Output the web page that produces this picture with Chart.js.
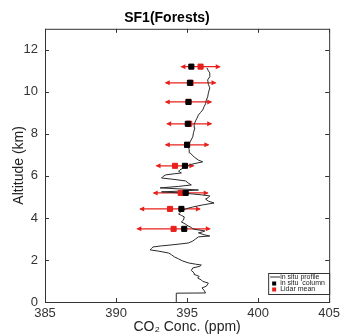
<!DOCTYPE html>
<html>
<head>
<meta charset="utf-8">
<script src="https://cdn.jsdelivr.net/npm/chart.js@4.4.0/dist/chart.umd.min.js"></script>
<style>
  html, body { margin: 0; padding: 0; background: #fff; }
  #wrap { width: 344px; height: 336px; }
</style>
</head>
<body>
<div id="wrap"><canvas id="chart" width="344" height="336"></canvas></div>
<script>
// in situ profile (altitude km, CO2 ppm)
const profileAlt = [
  0, 0.42, 0.43, 0.55, 0.67, 0.75, 0.9, 0.98, 1.05, 1.14,
  1.22, 1.3, 1.38, 1.5, 1.62, 1.7, 1.76, 1.8, 1.86, 1.95,
  2.05, 2.15, 2.25, 2.33, 2.42, 2.48, 2.55, 2.62, 2.67, 2.71,
  2.76, 2.81, 2.9, 3.0, 3.1, 3.14, 3.2, 3.29, 3.34, 3.38,
  3.44, 3.48, 3.55, 3.62, 3.7, 3.81, 3.9, 4.05, 4.12, 4.19,
  4.28, 4.38, 4.45, 4.52, 4.62, 4.71, 4.8, 4.9, 4.97, 5.05,
  5.1, 5.14, 5.19, 5.24, 5.28, 5.33, 5.38, 5.43, 5.5, 5.57,
  5.65, 5.76, 5.84, 5.9, 5.97, 6.05, 6.1, 6.14, 6.22, 6.29,
  6.36, 6.43, 6.55, 6.67, 6.75, 6.9, 7.1, 7.25, 7.43, 7.6,
  7.86, 8.05, 8.29, 8.45, 8.62, 8.75, 8.9, 9.02, 9.14, 9.3,
  9.43, 9.6, 9.76, 9.95, 10.19, 10.35, 10.57, 10.72, 10.9, 11.0, 11.14
];
const profileConc = [
  394.24, 394.24, 396.3, 396.2, 396.05, 396.35, 396.5, 396.1, 396.0, 395.75,
  395.85, 395.55, 395.5, 395.3, 395.4, 395.9, 396.0, 395.6, 395.1, 394.7,
  394.4, 394.1, 393.9, 393.7, 393.0, 392.4, 392.5, 392.6, 393.2, 393.8,
  394.5, 395.1, 395.4, 395.6, 395.8, 396.6, 396.2, 395.8, 396.1, 396.25,
  395.7, 395.4, 395.3, 395.07, 394.9, 394.6, 394.75, 394.8, 394.6, 394.4,
  394.55, 394.7, 395.0, 395.4, 396.1, 396.9, 396.5, 396.3, 396.5, 396.6,
  396.0, 395.4, 394.5, 393.2, 394.6, 395.8, 394.5, 393.1, 394.4, 395.3,
  395.1, 394.9, 394.0, 393.2, 393.3, 393.5, 394.1, 394.6, 394.4, 394.5,
  394.7, 394.8, 395.3, 396.1, 395.8, 395.5, 395.2, 395.15, 395.07, 395.2,
  395.4, 395.45, 395.55, 395.5, 395.6, 395.7, 395.8, 395.95, 396.1, 396.2,
  396.3, 396.35, 396.45, 396.5, 396.6, 396.5, 396.45, 396.6, 396.6, 396.5, 396.4
];

// column levels
const levelAlt = [11.2, 10.43, 9.52, 8.48, 7.48, 6.48, 5.19, 4.43, 3.48];
const insituColumn = [395.3, 395.2, 395.1, 395.05, 395.0, 394.85, 394.9, 394.6, 394.8];
const lidarMean = [395.95, 395.25, 395.1, 395.15, 395.0, 394.15, 394.55, 393.8, 394.05];
const lidarErr = [1.35, 1.75, 1.6, 1.55, 1.5, 1.3, 1.9, 2.1, 2.55];

const xTicks = [385, 390, 395, 400, 405];
const yTicks = [0, 2, 4, 6, 8, 10, 12];

const RED = "#e8201c";
const FONT = "'Liberation Sans', Arial, Helvetica, sans-serif";

// red error bars with arrow heads
const errorBars = {
  id: "errorBars",
  beforeDatasetsDraw(chart) {
    const { ctx, scales: { x, y } } = chart;
    ctx.save();
    ctx.strokeStyle = RED;
    ctx.fillStyle = RED;
    ctx.lineWidth = 1.3;
    for (let i = 0; i < levelAlt.length; i++) {
      const py = y.getPixelForValue(levelAlt[i]);
      const x1 = x.getPixelForValue(lidarMean[i] - lidarErr[i]);
      const x2 = x.getPixelForValue(lidarMean[i] + lidarErr[i]);
      ctx.beginPath();
      ctx.moveTo(x1, py);
      ctx.lineTo(x2, py);
      ctx.stroke();
      // arrow heads
      ctx.beginPath();
      ctx.moveTo(x1 - 1, py);
      ctx.lineTo(x1 + 4, py - 2.5);
      ctx.lineTo(x1 + 4, py + 2.5);
      ctx.closePath();
      ctx.moveTo(x2 + 1, py);
      ctx.lineTo(x2 - 4, py - 2.5);
      ctx.lineTo(x2 - 4, py + 2.5);
      ctx.closePath();
      ctx.fill();
    }
    ctx.restore();
  },
};

// matlab style box with inward ticks
const frame = {
  id: "frame",
  afterDraw(chart) {
    const { ctx, chartArea: a, scales: { x, y } } = chart;
    ctx.save();
    ctx.strokeStyle = "#333";
    ctx.lineWidth = 1;
    ctx.strokeRect(a.left + 0.5, a.top + 0.5, a.right - a.left, a.bottom - a.top);
    ctx.beginPath();
    xTicks.forEach((v) => {
      const px = Math.round(x.getPixelForValue(v)) + 0.5;
      ctx.moveTo(px, a.bottom); ctx.lineTo(px, a.bottom - 4);
      ctx.moveTo(px, a.top); ctx.lineTo(px, a.top + 4);
    });
    yTicks.forEach((v) => {
      const py = Math.round(y.getPixelForValue(v)) + 0.5;
      ctx.moveTo(a.left, py); ctx.lineTo(a.left + 4, py);
      ctx.moveTo(a.right, py); ctx.lineTo(a.right - 4, py);
    });
    ctx.stroke();
    ctx.restore();
  },
};

// legend box in lower right corner
const cornerLegend = {
  id: "cornerLegend",
  afterDraw(chart) {
    const { ctx, chartArea: a } = chart;
    const bx = a.right - 61, by = a.bottom - 29, bw = 61, bh = 21;
    ctx.save();
    ctx.fillStyle = "#fff";
    ctx.fillRect(bx, by, bw, bh);
    ctx.strokeStyle = "#333";
    ctx.lineWidth = 1;
    ctx.strokeRect(bx + 0.5, by + 0.5, bw, bh);
    ctx.font = "7px " + FONT;
    ctx.textBaseline = "middle";
    ctx.fillStyle = "#222";
    ctx.beginPath();
    ctx.moveTo(bx + 2, by + 4);
    ctx.lineTo(bx + 12, by + 4);
    ctx.stroke();
    ctx.fillText("in situ profile", bx + 12, by + 4);
    ctx.fillStyle = "#000";
    ctx.fillRect(bx + 4, by + 8.5, 4, 4);
    ctx.fillStyle = "#222";
    ctx.fillText("in situ  column", bx + 12, by + 10.5);
    ctx.fillStyle = RED;
    ctx.fillRect(bx + 4, by + 14.5, 4, 4);
    ctx.fillStyle = "#222";
    ctx.fillText("Lidar mean", bx + 12, by + 16.5);
    ctx.restore();
  },
};

const ctx = document.getElementById("chart").getContext("2d");

new Chart(ctx, {
  type: "scatter",
  data: {
    datasets: [
      {
        label: "in situ profile",
        data: profileAlt.map((h, i) => ({ x: profileConc[i], y: h })),
        showLine: true,
        borderColor: "#2a2a2a",
        borderWidth: 1,
        pointRadius: 0,
        tension: 0,
        order: 3,
      },
      {
        label: "Lidar mean",
        data: levelAlt.map((h, i) => ({ x: lidarMean[i], y: h })),
        pointStyle: "rect",
        pointRadius: 3.6,
        backgroundColor: RED,
        borderColor: RED,
        borderWidth: 1,
        order: 2,
      },
      {
        label: "in situ column",
        data: levelAlt.map((h, i) => ({ x: insituColumn[i], y: h })),
        pointStyle: "rect",
        pointRadius: 3.6,
        backgroundColor: "#000",
        borderColor: "#000",
        borderWidth: 1,
        order: 1,
      },
    ],
  },
  options: {
    responsive: false,
    animation: false,
    layout: { padding: { left: 0, right: 10, top: 0, bottom: 0 } },
    plugins: {
      legend: { display: false },
      tooltip: { enabled: false },
      title: {
        display: true,
        text: "SF1(Forests)",
        color: "#000",
        font: { family: FONT, size: 14, weight: "bold" },
        padding: { top: 10, bottom: 2 },
      },
    },
    scales: {
      x: {
        type: "linear",
        min: 385,
        max: 405,
        afterBuildTicks: (s) => { s.ticks = xTicks.map((v) => ({ value: v })); },
        afterFit: (s) => { s.height = 34; },
        grid: { display: false, drawTicks: false },
        border: { display: false },
        ticks: { color: "#333", font: { family: FONT, size: 13 }, padding: 4, maxRotation: 0 },
        title: {
          display: true,
          text: "CO₂ Conc. (ppm)",
          color: "#222",
          font: { family: FONT, size: 14 },
          padding: { top: 0, bottom: 0 },
        },
      },
      y: {
        type: "linear",
        min: 0,
        max: 13,
        afterBuildTicks: (s) => { s.ticks = yTicks.map((v) => ({ value: v })); },
        afterFit: (s) => { s.width = 45; },
        grid: { display: false, drawTicks: false },
        border: { display: false },
        ticks: { color: "#333", font: { family: FONT, size: 13 }, padding: 7 },
        title: {
          display: true,
          text: "Altitude (km)",
          color: "#222",
          font: { family: FONT, size: 14 },
          padding: { top: 11, bottom: 0 },
        },
      },
    },
  },
  plugins: [errorBars, frame, cornerLegend],
});
</script>
</body>
</html>
